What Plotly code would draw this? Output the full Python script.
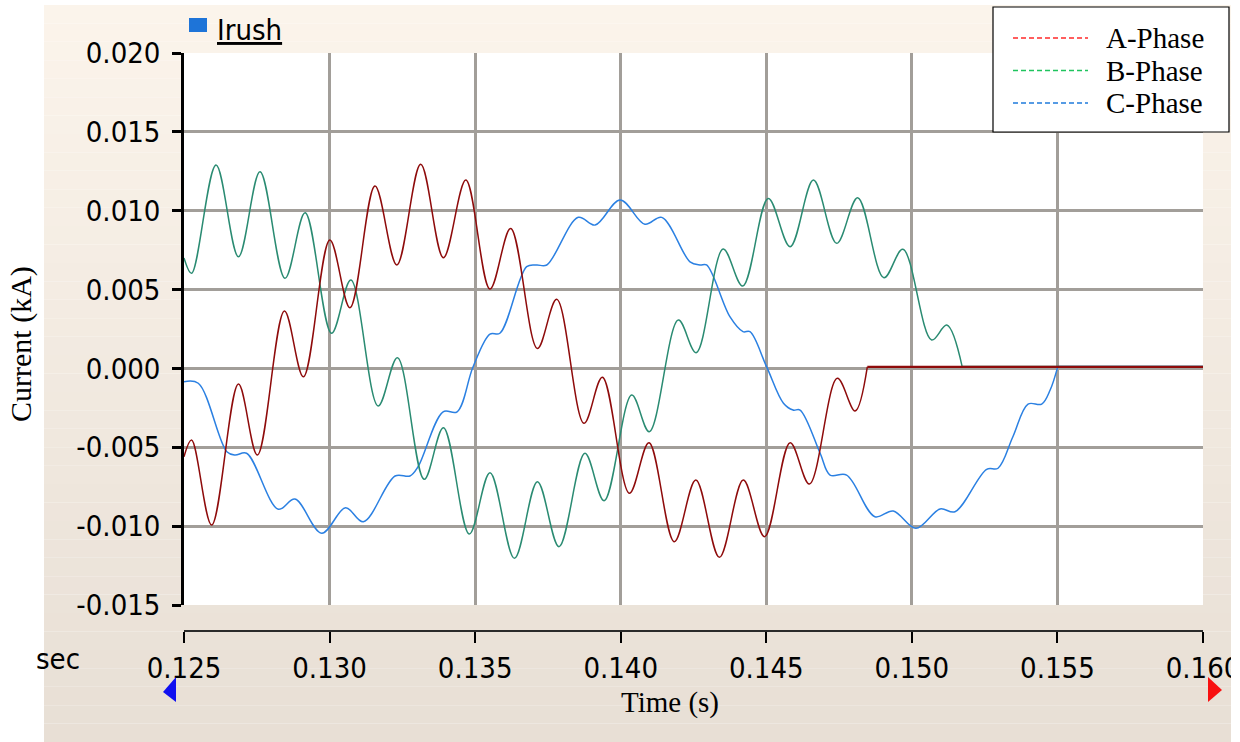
import plotly.graph_objects as go

# ---- Inrush current waveforms (kA) vs time (s) ----
t_A = [0.12500, 0.12526, 0.12595, 0.12687, 0.12752, 0.12845, 0.12910, 0.13001, 0.13070,
       0.13156, 0.13231, 0.13313, 0.13391, 0.13468, 0.13551, 0.13622, 0.13714, 0.13780,
       0.13874, 0.13937, 0.14030, 0.14097, 0.14184, 0.14258, 0.14339, 0.14421, 0.14494,
       0.14582, 0.14648, 0.14744, 0.14805, 0.14847, 0.16000]
i_A = [-0.00560, -0.00454, -0.00993, -0.00099, -0.00549, 0.00364, -0.00053, 0.00814, 0.00385,
       0.01156, 0.00656, 0.01294, 0.00702, 0.01194, 0.00503, 0.00888, 0.00127, 0.00438,
       -0.00348, -0.00056, -0.00792, -0.00471, -0.01099, -0.00708, -0.01198, -0.00708, -0.01067,
       -0.00471, -0.00733, -0.00063, -0.00270, 0.00010, 0.00010]

t_B = [0.12500, 0.12526, 0.12610, 0.12687, 0.12761, 0.12847, 0.12916, 0.13007, 0.13073,
       0.13167, 0.13233, 0.13325, 0.13391, 0.13480, 0.13551, 0.13635, 0.13714, 0.13788,
       0.13877, 0.13943, 0.14038, 0.14098, 0.14198, 0.14259, 0.14352, 0.14419, 0.14507,
       0.14582, 0.14662, 0.14742, 0.14814, 0.14904, 0.14969, 0.15068, 0.15120, 0.15173, 0.16000]
i_B = [0.00700, 0.00603, 0.01290, 0.00708, 0.01247, 0.00571, 0.00987, 0.00223, 0.00560,
       -0.00238, 0.00068, -0.00703, -0.00376, -0.01050, -0.00661, -0.01204, -0.00718, -0.01130,
       -0.00538, -0.00839, -0.00169, -0.00401, 0.00307, 0.00100, 0.00757, 0.00522, 0.01078,
       0.00772, 0.01194, 0.00793, 0.01082, 0.00575, 0.00755, 0.00180, 0.00275, 0.00010, 0.00010]

t_C = [0.12500, 0.12549, 0.12647, 0.12675, 0.12715, 0.12824, 0.12881, 0.12973, 0.13055,
       0.13116, 0.13225, 0.13276, 0.13304, 0.13390, 0.13438, 0.13493, 0.13551, 0.13585,
       0.13677, 0.13711, 0.13746, 0.13854, 0.13912, 0.13998, 0.14083, 0.14141, 0.14238,
       0.14272, 0.14295, 0.14375, 0.14420, 0.14444, 0.14501, 0.14559, 0.14592, 0.14616,
       0.14685, 0.14719, 0.14776, 0.14873, 0.14936, 0.15014, 0.15097, 0.15148, 0.15257,
       0.15296, 0.15347, 0.15399, 0.15446, 0.15475, 0.15501, 0.16000]
i_C = [-0.00084, -0.00094, -0.00528, -0.00549, -0.00538, -0.00893, -0.00828, -0.01045, -0.00883,
       -0.00972, -0.00682, -0.00682, -0.00623, -0.00275, -0.00275, 0.00011, 0.00218, 0.00223,
       0.00645, 0.00656, 0.00656, 0.00958, 0.00909, 0.01068, 0.00914, 0.00958, 0.00676,
       0.00656, 0.00656, 0.00328, 0.00233, 0.00233, 0.00011, -0.00221, -0.00264, -0.00264,
       -0.00538, -0.00676, -0.00676, -0.00940, -0.00904, -0.01014, -0.00891, -0.00909, -0.00640,
       -0.00633, -0.00433, -0.00226, -0.00226, -0.00137, 0.00010, 0.00010]

x_ticks = [0.125, 0.130, 0.135, 0.140, 0.145, 0.150, 0.155, 0.160]
x_labels = ["0.125", "0.130", "0.135", "0.140", "0.145", "0.150", "0.155", "0.160"]
y_ticks = [-0.015, -0.010, -0.005, 0.000, 0.005, 0.010, 0.015, 0.020]
y_labels = ["-0.015", "-0.010", "-0.005", "0.000", "0.005", "0.010", "0.015", "0.020"]

phases = ["A-Phase", "B-Phase", "C-Phase"]
curve_colors = ["#8E0B0B", "#2A8B72", "#2B80E2"]
key_colors = ["#FF2A2A", "#1FC45E", "#1F7BDB"]

W, H = 1240, 742


def px(x):
    return x / W


def py(y):
    return 1 - y / H


TICK_FONT = dict(family="DejaVu Sans Condensed, DejaVu Sans, sans-serif", size=29, color="black")
SERIF = "Liberation Serif, Times New Roman, serif"

fig = go.Figure()

# draw C first, then B, then A so the dark-red trace sits on top
series = [(t_C, i_C, 2), (t_B, i_B, 1), (t_A, i_A, 0)]
for t, v, k in series:
    fig.add_trace(go.Scatter(x=t[:-1], y=v[:-1], mode="lines", name=phases[k],
                             line=dict(color=curve_colors[k], width=1.5, shape="spline", smoothing=1.0),
                             showlegend=False, hoverinfo="x+y"))
    fig.add_trace(go.Scatter(x=t[-2:], y=v[-2:], mode="lines", name=phases[k],
                             line=dict(color=curve_colors[k], width=2.2),
                             showlegend=False, hoverinfo="x+y"))

shapes = []

# beige panel with a soft vertical gradient
top_rgb = (0xFB, 0xF4, 0xEB)
bot_rgb = (0xE8, 0xDF, 0xD5)
y_top, y_bot, bands = 5, 742, 40
for b in range(bands):
    f = b / (bands - 1)
    c = tuple(round(top_rgb[j] + (bot_rgb[j] - top_rgb[j]) * f) for j in range(3))
    ya = y_top + (y_bot - y_top) * b / bands
    yb = y_top + (y_bot - y_top) * (b + 1) / bands
    shapes.append(dict(type="rect", xref="paper", yref="paper", layer="below",
                       x0=px(44), x1=px(1231), y0=py(yb), y1=py(ya),
                       fillcolor="rgb(%d,%d,%d)" % c, line=dict(width=0)))

# white plotting area on top of the panel
shapes.append(dict(type="rect", xref="x domain", yref="y domain", layer="below",
                   x0=0, x1=1, y0=0, y1=1, fillcolor="white", line=dict(width=0)))

# white margin on the right clipping the last tick label
shapes.append(dict(type="rect", xref="paper", yref="paper", layer="above",
                   x0=px(1231), x1=1, y0=0, y1=1, fillcolor="white", line=dict(width=0)))

# series marker square next to the title
shapes.append(dict(type="rect", xref="paper", yref="paper", layer="above",
                   x0=px(189), x1=px(207), y0=py(32), y1=py(18),
                   fillcolor="#1E74D8", line=dict(width=0)))

# scroll markers under the time axis
shapes.append(dict(type="path", xref="paper", yref="paper", layer="above",
                   path="M %f,%f L %f,%f L %f,%f Z" % (px(176), py(677), px(163), py(692), px(176), py(702)),
                   fillcolor="#1010F0", line=dict(width=0)))
shapes.append(dict(type="path", xref="paper", yref="paper", layer="above",
                   path="M %f,%f L %f,%f L %f,%f Z" % (px(1208), py(677), px(1222), py(690), px(1208), py(702)),
                   fillcolor="#F81010", line=dict(width=0)))

# legend box
shapes.append(dict(type="rect", xref="paper", yref="paper", layer="above",
                   x0=px(993), x1=px(1229), y0=py(132), y1=py(7),
                   fillcolor="white", line=dict(color="black", width=1.2)))

annotations = []
for k, name in enumerate(phases):
    yy = 38 + 32.5 * k
    shapes.append(dict(type="line", xref="paper", yref="paper", layer="above",
                       x0=px(1013), x1=px(1088), y0=py(yy), y1=py(yy),
                       line=dict(color=key_colors[k], width=1.6, dash="5px,3px")))
    annotations.append(dict(text=name, xref="paper", yref="paper", x=px(1104), y=py(yy),
                            xanchor="left", yanchor="middle", showarrow=False,
                            font=dict(family=SERIF, size=29, color="black")))

annotations += [
    dict(text="<u>Irush</u>", xref="paper", yref="paper", x=px(215), y=py(30),
         xanchor="left", yanchor="middle", showarrow=False,
         font=dict(family="DejaVu Sans Condensed, DejaVu Sans, sans-serif", size=29, color="black")),
    dict(text="Current (kA)", xref="paper", yref="paper", x=px(21), y=py(344),
         xanchor="center", yanchor="middle", textangle=-90, showarrow=False,
         font=dict(family=SERIF, size=30, color="black")),
    dict(text="Time (s)", xref="paper", yref="paper", x=px(670), y=py(702),
         xanchor="center", yanchor="middle", showarrow=False,
         font=dict(family=SERIF, size=29, color="black")),
    dict(text="sec", xref="paper", yref="paper", x=px(82), y=py(659),
         xanchor="right", yanchor="middle", showarrow=False, font=TICK_FONT),
]

fig.update_layout(
    width=W, height=H,
    autosize=False,
    margin=dict(l=0, r=0, t=0, b=0, pad=0, autoexpand=False),
    paper_bgcolor="white",
    plot_bgcolor="white",
    showlegend=False,
    shapes=shapes,
    annotations=annotations,
    xaxis=dict(
        domain=[px(184), px(1203)],
        range=[0.125, 0.160],
        anchor="free", position=py(631),
        automargin=False,
        tickvals=x_ticks, ticktext=x_labels,
        ticklabeloverflow="allow",
        showgrid=True, gridcolor="#A29E99", gridwidth=3,
        zeroline=False,
        showline=True, linecolor="#2A2A2A", linewidth=2,
        ticks="outside", ticklen=11, tickwidth=2, tickcolor="black",
        tickfont=TICK_FONT,
        fixedrange=True,
    ),
    yaxis=dict(
        domain=[py(605), py(53)],
        range=[-0.015, 0.020],
        automargin=False,
        tickvals=y_ticks, ticktext=y_labels,
        ticklabeloverflow="allow",
        showgrid=True, gridcolor="#A29E99", gridwidth=3,
        zeroline=False,
        showline=True, linecolor="black", linewidth=2.5,
        ticks="outside", ticklen=9, tickwidth=2.5, tickcolor="black",
        tickfont=TICK_FONT,
        ticklabelstandoff=6,
        fixedrange=True,
    ),
)

fig.write_html("out.html")
